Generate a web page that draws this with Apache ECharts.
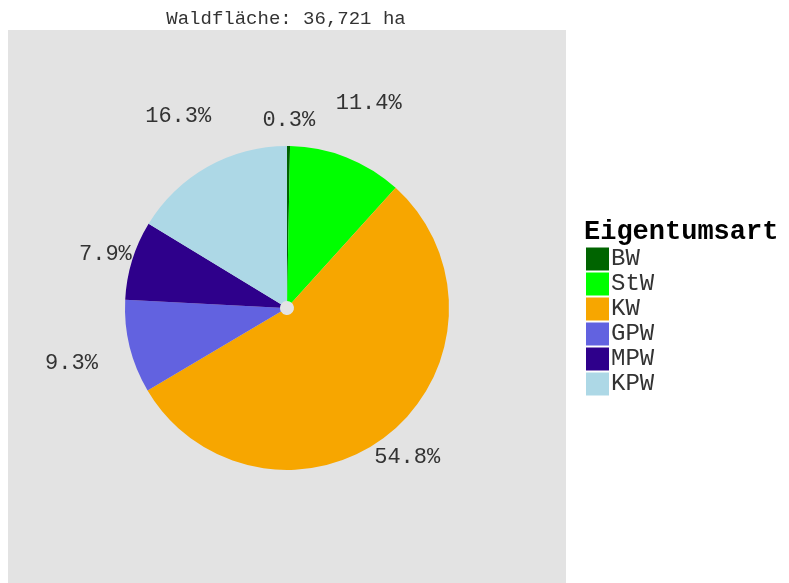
<!DOCTYPE html>
<html><head><meta charset="utf-8">
<script src="https://cdn.jsdelivr.net/npm/echarts@6/dist/echarts.min.js"></script>
<style>html,body{margin:0;padding:0;background:#fff}#c{width:789px;height:583px}</style>
</head><body><div id="c"></div>
<script>
const categories = ['BW','StW','KW','GPW','MPW','KPW'];
const shares = [0.3, 11.4, 54.8, 9.3, 7.9, 16.3];
const colors = ['#006400','#00ff00','#f7a600','#6262e0','#2e008b','#add8e6'];
const titleText = 'Waldfläche: 36,721 ha';
const legendTitle = 'Eigentumsart';

const mono = 'Liberation Mono, Courier New, monospace';
const data = categories.map((c,i)=>({name:c, value:shares[i], itemStyle:{color:colors[i]}}));
const fmt = p => p.value.toFixed(1) + '%';
function labelSeries(radius, parity){
  return {
    type:'pie', center:[287,310], radius:[0, radius], startAngle:90, silent:true,
    legendHoverLink:false,
    data: categories.map((c,i)=>({name:c+'_l', value:shares[i],
      itemStyle:{color:'rgba(0,0,0,0)'},
      label:{show: i%2===parity}})),
    label:{position:'inside', rotate:0, formatter:fmt, color:'#333', fontFamily:mono, fontSize:22},
    labelLine:{show:false}, emphasis:{disabled:true}, tooltip:{show:false}
  };
}
const chart = echarts.init(document.getElementById('c'), null, {renderer:'canvas'});
chart.setOption({
  animation:false,
  backgroundColor:'#ffffff',
  title:[
    {text:titleText, left:286, top:9, textAlign:'center', padding:0,
     textStyle:{fontFamily:mono, fontSize:19, fontWeight:'normal', color:'#333'}},
    {text:legendTitle, left:584, top:219, padding:0,
     textStyle:{fontFamily:mono, fontSize:27, fontWeight:'bold', color:'#000'}}
  ],
  grid:{show:true, left:8, top:30, width:558, height:553, backgroundColor:'#e3e3e3', borderWidth:0},
  xAxis:{show:false, type:'value'},
  yAxis:{show:false, type:'value'},
  legend:{
    orient:'vertical', left:586, top:247, padding:0, itemWidth:23, itemHeight:23, itemGap:1,
    icon:'rect', data:categories, selectedMode:false,
    textStyle:{fontFamily:mono, fontSize:24, color:'#333', padding:[0,0,0,-3]}
  },
  series:[
    {type:'pie', center:[287,308], radius:[7,162], startAngle:90, clockwise:true,
     data:data, label:{show:false}, labelLine:{show:false},
     itemStyle:{borderWidth:0}, emphasis:{disabled:true}},
    labelSeries(374, 0),
    labelSeries(438, 1)
  ]
});
</script></body></html>
